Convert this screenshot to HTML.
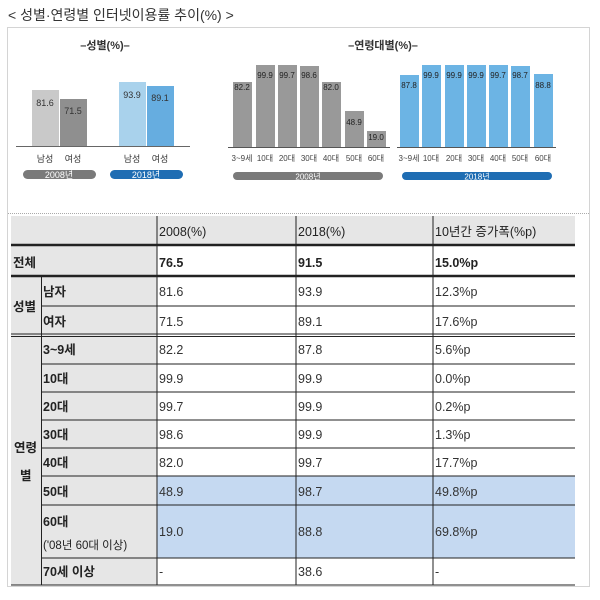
<!DOCTYPE html>
<html><head><meta charset="utf-8"><style>
body{margin:0;background:#fff;width:600px;height:600px;overflow:hidden}
svg{display:block;font-family:"Liberation Sans","Noto Sans CJK KR",sans-serif}
</style></head><body>
<svg width="600" height="600" viewBox="0 0 600 600">
<text x="8" y="20" font-size="14" fill="#333">&lt; 성별·연령별 인터넷이용률 추이(%) &gt;</text>
<rect x="7.5" y="27.5" width="582" height="559" fill="none" stroke="#aaa" stroke-dasharray="1,1"/>
<!-- gender chart -->
<text x="105" y="49" font-size="11" font-weight="bold" fill="#333" text-anchor="middle">–성별(%)–</text>
<rect x="32" y="90" width="27" height="56" fill="#c9c9c9"/>
<rect x="60" y="99" width="27" height="47" fill="#8f8f8f"/>
<rect x="119" y="82" width="27" height="64" fill="#a9d2ec"/>
<rect x="147" y="86" width="27" height="60" fill="#66ade0"/>
<line x1="16" y1="146.5" x2="190" y2="146.5" stroke="#666"/>
<g font-size="9" fill="#333" text-anchor="middle">
<text x="45" y="106">81.6</text><text x="73" y="114">71.5</text>
<text x="132" y="98">93.9</text><text x="160" y="101">89.1</text>
<text x="45" y="162">남성</text><text x="73" y="162">여성</text>
<text x="132" y="162">남성</text><text x="160" y="162">여성</text>
</g>
<rect x="23" y="170" width="73" height="9" rx="4.5" fill="#7a7a7a"/>
<rect x="110" y="170" width="73" height="9" rx="4.5" fill="#1f6db3"/>
<text x="59" y="178" font-size="9" fill="#fff" text-anchor="middle">2008년</text>
<text x="146" y="178" font-size="9" fill="#fff" text-anchor="middle">2018년</text>
<!-- age chart -->
<text x="383" y="49" font-size="11" font-weight="bold" fill="#333" text-anchor="middle">–연령대별(%)–</text>
<g fill="#999">
<rect x="233" y="82" width="19" height="65"/><rect x="256" y="65" width="19" height="82"/>
<rect x="278" y="65" width="19" height="82"/><rect x="300" y="66" width="19" height="81"/>
<rect x="322" y="82" width="19" height="65"/><rect x="345" y="111" width="19" height="36"/>
<rect x="367" y="131" width="19" height="16"/>
</g>
<g fill="#6cb4e4">
<rect x="400" y="75" width="19" height="72"/><rect x="422" y="65" width="19" height="82"/>
<rect x="445" y="65" width="19" height="82"/><rect x="467" y="65" width="19" height="82"/>
<rect x="489" y="65" width="19" height="82"/><rect x="511" y="66" width="19" height="81"/>
<rect x="534" y="74" width="19" height="73"/>
</g>
<line x1="228" y1="147.5" x2="390" y2="147.5" stroke="#555"/>
<line x1="397" y1="147.5" x2="556" y2="147.5" stroke="#555"/>
<g font-size="8" fill="#222" text-anchor="middle">
<text x="242" y="90">82.2</text><text x="265" y="78">99.9</text><text x="287" y="78">99.7</text>
<text x="309" y="78">98.6</text><text x="331" y="90">82.0</text><text x="354" y="125">48.9</text>
<text x="376" y="140">19.0</text>
<text x="409" y="88">87.8</text><text x="431" y="78">99.9</text><text x="454" y="78">99.9</text>
<text x="476" y="78">99.9</text><text x="498" y="78">99.7</text><text x="520" y="78">98.7</text>
<text x="543" y="88">88.8</text>
</g>
<g font-size="8" fill="#444" text-anchor="middle">
<text x="242" y="161">3~9세</text><text x="265" y="161">10대</text><text x="287" y="161">20대</text>
<text x="309" y="161">30대</text><text x="331" y="161">40대</text><text x="354" y="161">50대</text><text x="376" y="161">60대</text>
<text x="409" y="161">3~9세</text><text x="431" y="161">10대</text><text x="454" y="161">20대</text>
<text x="476" y="161">30대</text><text x="498" y="161">40대</text><text x="520" y="161">50대</text><text x="543" y="161">60대</text>
</g>
<rect x="233" y="172" width="150" height="8" rx="4" fill="#7a7a7a"/>
<rect x="402" y="172" width="150" height="8" rx="4" fill="#1f6db3"/>
<text x="308" y="179.5" font-size="8" fill="#fff" text-anchor="middle">2008년</text>
<text x="477" y="179.5" font-size="8" fill="#fff" text-anchor="middle">2018년</text>
<line x1="8" y1="213.5" x2="589" y2="213.5" stroke="#aaa" stroke-dasharray="1,1"/>
<!-- table -->
<rect x="11" y="216" width="564" height="30" fill="#e6e6e6"/>
<rect x="11" y="246" width="146" height="31" fill="#e6e6e6"/>
<rect x="11" y="277" width="146" height="308" fill="#e6e6e6"/>
<rect x="157" y="476" width="418" height="82" fill="#c5d9f1"/>
<g stroke="#222" stroke-width="1">
<line x1="11" y1="245" x2="575" y2="245" stroke-width="2.5"/>
<line x1="11" y1="276" x2="575" y2="276" stroke-width="2.5"/>
<line x1="41" y1="306" x2="575" y2="306"/>
<line x1="11" y1="334" x2="575" y2="334"/><line x1="11" y1="336.5" x2="575" y2="336.5"/>
<line x1="41" y1="364" x2="575" y2="364"/><line x1="41" y1="392" x2="575" y2="392"/>
<line x1="41" y1="420" x2="575" y2="420"/><line x1="41" y1="448" x2="575" y2="448"/>
<line x1="41" y1="476" x2="575" y2="476"/><line x1="41" y1="505" x2="575" y2="505"/>
<line x1="41" y1="558" x2="575" y2="558"/><line x1="11" y1="585" x2="575" y2="585"/>
<line x1="157" y1="216" x2="157" y2="585"/><line x1="296" y1="216" x2="296" y2="585"/>
<line x1="433" y1="216" x2="433" y2="585"/>
<line x1="41.5" y1="277" x2="41.5" y2="585"/>
</g>
<g font-size="12.5" fill="#222">
<text x="159" y="236">2008(%)</text><text x="298" y="236">2018(%)</text><text x="435" y="236">10년간 증가폭(%p)</text>
<g font-weight="bold"><text x="13" y="267">전체</text><text x="159" y="267">76.5</text><text x="298" y="267">91.5</text><text x="435" y="267">15.0%p</text>
<text x="13" y="311">성별</text><text x="14" y="452">연령</text><text x="20" y="480">별</text>
<text x="43" y="296">남자</text><text x="43" y="326">여자</text><text x="43" y="354">3~9세</text>
<text x="43" y="383">10대</text><text x="43" y="411">20대</text><text x="43" y="439">30대</text>
<text x="43" y="467">40대</text><text x="43" y="496">50대</text><text x="43" y="526">60대</text>
<text x="43" y="576">70세 이상</text></g>
<text x="43" y="549" font-size="11.5">('08년 60대 이상)</text>
<g fill="#333">
<text x="159" y="296">81.6</text><text x="298" y="296">93.9</text><text x="435" y="296">12.3%p</text>
<text x="159" y="326">71.5</text><text x="298" y="326">89.1</text><text x="435" y="326">17.6%p</text>
<text x="159" y="354">82.2</text><text x="298" y="354">87.8</text><text x="435" y="354">5.6%p</text>
<text x="159" y="383">99.9</text><text x="298" y="383">99.9</text><text x="435" y="383">0.0%p</text>
<text x="159" y="411">99.7</text><text x="298" y="411">99.9</text><text x="435" y="411">0.2%p</text>
<text x="159" y="439">98.6</text><text x="298" y="439">99.9</text><text x="435" y="439">1.3%p</text>
<text x="159" y="467">82.0</text><text x="298" y="467">99.7</text><text x="435" y="467">17.7%p</text>
<text x="159" y="496">48.9</text><text x="298" y="496">98.7</text><text x="435" y="496">49.8%p</text>
<text x="159" y="536">19.0</text><text x="298" y="536">88.8</text><text x="435" y="536">69.8%p</text>
<text x="159" y="576">-</text><text x="298" y="576">38.6</text><text x="435" y="576">-</text>
</g></g>
</svg>
</body></html>
